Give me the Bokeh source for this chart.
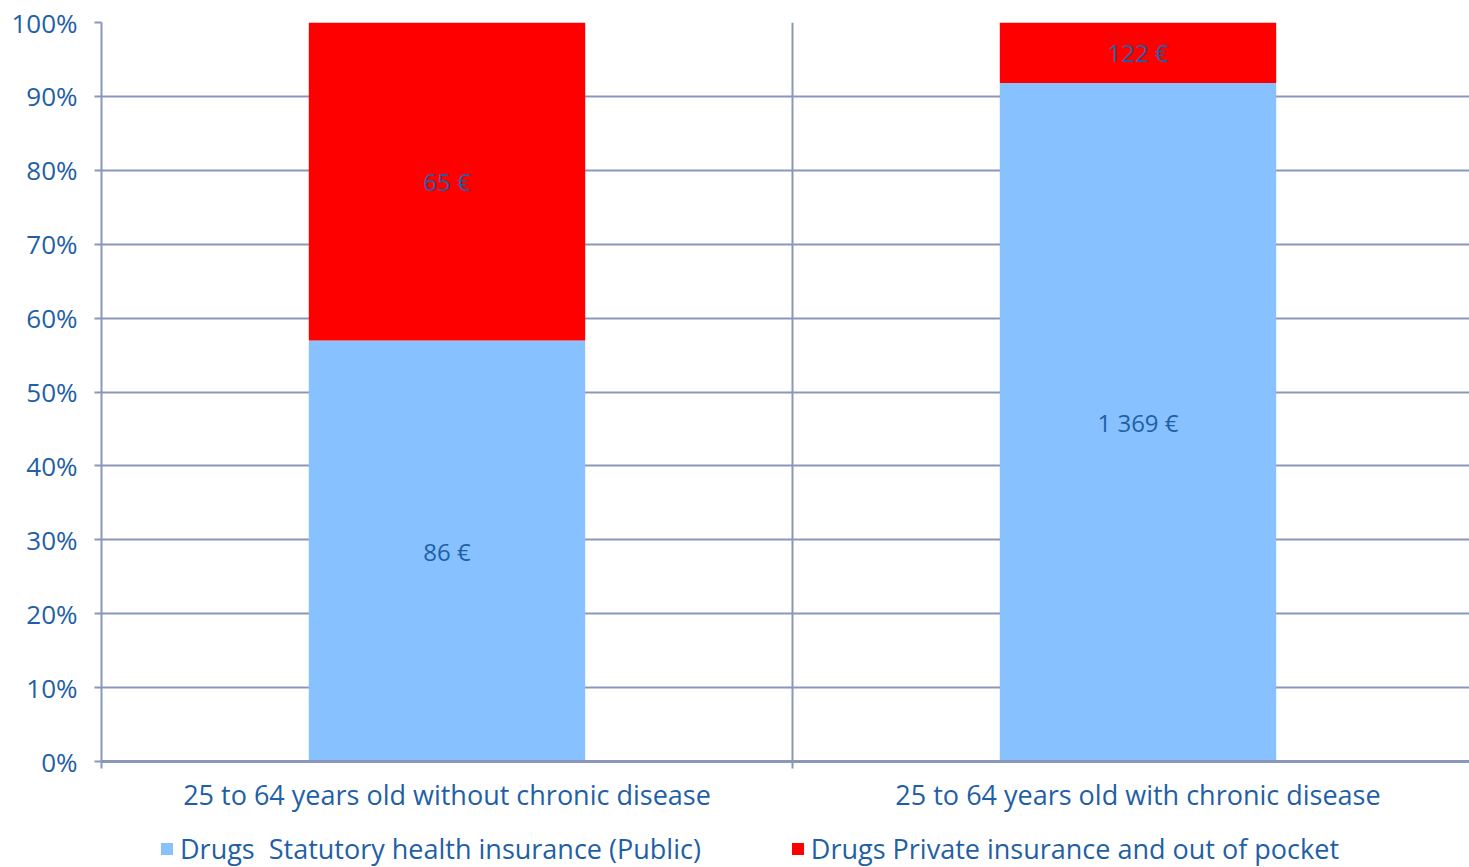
from bokeh.plotting import figure
from bokeh.layouts import column
from bokeh.models import ColumnDataSource, FixedTicker, Legend, LegendItem, Range1d
from bokeh.core.properties import value
from bokeh.embed import file_html
from bokeh.resources import INLINE

# Annual drug spending per person, split by payer
categories = ["25 to 64 years old without chronic disease",
              "25 to 64 years old with chronic disease"]
public_eur = [86, 1369]
private_eur = [65, 122]
series_names = ["Drugs  Statutory health insurance (Public)",
                "Drugs Private insurance and out of pocket"]
y_tick_labels = ["0%", "10%", "20%", "30%", "40%", "50%", "60%", "70%", "80%", "90%", "100%"]

FONT = "Open Sans"
TEXT = "#1F5FA6"
GRID = "#8A97B9"
BLUE = "#87C1FF"
RED = "#FF0000"

def eur(v):
    return f"{v:,} €".replace(",", " ")

x = [i + 0.5 for i in range(len(categories))]
totals = [a + b for a, b in zip(public_eur, private_eur)]
pub_share = [a / t for a, t in zip(public_eur, totals)]
src = ColumnDataSource(dict(
    x=x,
    pub=pub_share,
    one=[1.0] * len(x),
    pub_mid=[s / 2 for s in pub_share],
    priv_mid=[(s + 1) / 2 for s in pub_share],
    pub_lbl=[eur(v) for v in public_eur],
    priv_lbl=[eur(v) for v in private_eur],
))

FRAME_W = 1368
CAT_W = 691  # pixels per category slot; the last slot runs past the right edge
p = figure(frame_width=FRAME_W, frame_height=739, output_backend="svg", toolbar_location=None,
           x_range=Range1d(0, FRAME_W / CAT_W), y_range=Range1d(0, 1),
           min_border_left=101, min_border_right=0, min_border_top=22,
           min_border_bottom=59)
p.outline_line_color = None
p.background_fill_color = "white"
p.border_fill_color = "white"

p.vbar(x="x", bottom=0, top="pub", width=0.4, source=src,
       fill_color=BLUE, line_color=None)
p.vbar(x="x", bottom="pub", top="one", width=0.4, source=src,
       fill_color=RED, line_color=None)

for col, mid in (("pub_lbl", "pub_mid"), ("priv_lbl", "priv_mid")):
    p.text(x="x", y=mid, text=col, source=src, text_align="center",
           text_baseline="middle", text_color=TEXT, text_font=value(FONT),
           text_font_size="24px")

# y axis
p.yaxis.ticker = FixedTicker(ticks=[i / 10 for i in range(11)])
p.yaxis.major_label_overrides = {i / 10: lbl for i, lbl in enumerate(y_tick_labels)}
p.yaxis.major_label_text_font = FONT
p.yaxis.major_label_text_font_size = "26px"
p.yaxis.major_label_text_color = TEXT
p.yaxis.axis_line_color = GRID
p.yaxis.axis_line_width = 2
p.yaxis.major_tick_line_color = GRID
p.yaxis.major_tick_line_width = 2
p.yaxis.major_tick_in = 0
p.yaxis.major_tick_out = 7
p.yaxis.minor_tick_line_color = None
p.yaxis.major_label_standoff = 17

# x axis: category labels at centers, divider ticks at slot edges
p.xaxis.ticker = FixedTicker(ticks=x, minor_ticks=list(range(len(categories) + 1)))
p.xaxis.major_label_overrides = {xx: c for xx, c in zip(x, categories)}
p.xaxis.major_label_text_font = FONT
p.xaxis.major_label_text_font_size = "27px"
p.xaxis.major_label_text_color = TEXT
p.xaxis.major_tick_line_color = None
p.xaxis.minor_tick_line_color = GRID
p.xaxis.minor_tick_line_width = 2
p.xaxis.minor_tick_in = 0
p.xaxis.minor_tick_out = 7
p.xaxis.axis_line_color = GRID
p.xaxis.axis_line_width = 3
p.xaxis.major_label_standoff = 7

p.ygrid.grid_line_color = GRID
p.ygrid.grid_line_width = 2
p.xgrid.ticker = FixedTicker(ticks=[1])
p.xgrid.grid_line_color = GRID
p.xgrid.grid_line_width = 2

# legend strip underneath the chart; swatch renderers sit outside the visible range
lg = figure(width=1469, height=47, output_backend="svg", toolbar_location=None,
            x_range=Range1d(0, 1), y_range=Range1d(0, 1),
            min_border=0, outline_line_color=None)
lg.axis.visible = False
lg.grid.visible = False
swatches = [lg.rect(x=[5], y=[5], width=1, height=1,
                    fill_color=c, line_color=None) for c in (BLUE, RED)]
legend = Legend(items=[LegendItem(label=n, renderers=[r])
                       for n, r in zip(series_names, swatches)],
                orientation="horizontal", location=(58, 0),
                label_text_font=FONT, label_text_font_size="27px",
                label_text_color=TEXT, glyph_width=15, glyph_height=15,
                spacing=89, padding=0, margin=0, border_line_color=None,
                background_fill_alpha=0, label_standoff=6)
lg.add_layout(legend)

open("out.html", "w").write(file_html(column(p, lg, spacing=0), INLINE))
